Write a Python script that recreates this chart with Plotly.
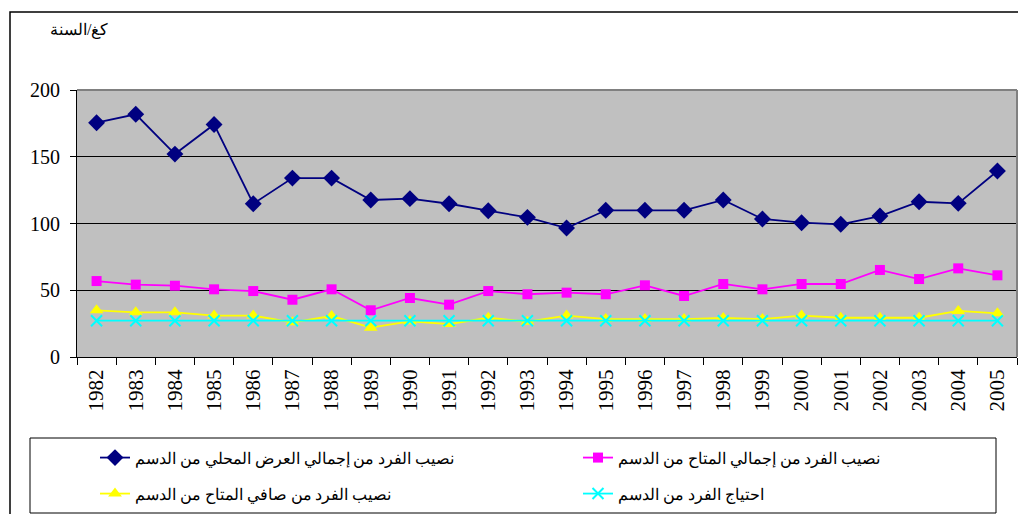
import plotly.graph_objects as go

years = [str(y) for y in range(1982, 2006)]
supply_total = [175.5, 181.8, 152.0, 174.2, 114.8, 134.0, 134.0, 117.6, 118.6, 114.8, 109.6, 104.6,
                96.6, 109.9, 109.9, 109.9, 117.6, 103.4, 100.6, 99.4, 105.6, 116.3, 115.1, 139.3]
available_total = [56.9, 54.2, 53.4, 50.7, 49.4, 42.9, 50.7, 35.0, 44.2, 39.2, 49.4, 47.0,
                   48.2, 47.0, 53.7, 45.7, 54.7, 50.7, 54.7, 54.7, 65.2, 58.4, 66.4, 61.2]
available_net = [35.0, 33.5, 33.5, 31.0, 31.0, 26.0, 30.7, 22.0, 26.7, 24.7, 29.4, 26.4,
                 31.0, 28.4, 28.4, 28.4, 29.2, 28.4, 31.0, 29.4, 29.4, 29.4, 34.5, 32.7]
requirement = [27.2] * 24

names = [
    "نصيب الفرد من إجمالي العرض المحلي من الدسم",
    "نصيب الفرد من إجمالي المتاح من الدسم",
    "نصيب الفرد من صافي المتاح من الدسم",
    "احتياج الفرد من الدسم",
]
y_label = "كغ/السنة"

FONT = "Liberation Serif"

W, H = 1018, 514
L, T = 77, 90
RIGHT, BOTTOM = 1017, 357
R, B = W - RIGHT, H - BOTTOM
pw, ph = RIGHT - L, BOTTOM - T


def px(x):
    return (x - L) / pw


def py(y):
    return (BOTTOM - y) / ph


fig = go.Figure()
fig.add_trace(go.Scatter(x=years, y=supply_total, name=names[0], mode="lines+markers",
                         line=dict(color="#000080", width=1.8),
                         marker=dict(symbol="diamond", size=13, color="#000080"), legend="legend"))
fig.add_trace(go.Scatter(x=years, y=available_total, name=names[1], mode="lines+markers",
                         line=dict(color="#FF00FF", width=1.8),
                         marker=dict(symbol="square", size=10, color="#FF00FF"), legend="legend2"))
fig.add_trace(go.Scatter(x=years, y=available_net, name=names[2], mode="lines+markers",
                         line=dict(color="#FFFF00", width=1.8),
                         marker=dict(symbol="triangle-up", size=12, color="#FFFF00"), legend="legend3"))
fig.add_trace(go.Scatter(x=years, y=requirement, name=names[3], mode="lines+markers",
                         line=dict(color="#00FFFF", width=1.8),
                         marker=dict(symbol="x-thin", size=11, line=dict(color="#00FFFF", width=2)),
                         legend="legend4"))

shapes = [
    dict(type="rect", xref="paper", yref="paper", x0=px(10), x1=px(1040), y0=py(540), y1=py(12),
         line=dict(color="black", width=1.5), layer="below"),
    dict(type="line", xref="paper", yref="paper", x0=0, x1=1, y0=1, y1=1,
         line=dict(color="#808080", width=2)),
    dict(type="line", xref="paper", yref="paper", x0=1, x1=1, y0=0, y1=1,
         line=dict(color="#808080", width=2)),
    dict(type="rect", xref="paper", yref="paper", x0=px(30), x1=px(996), y0=py(513), y1=py(438),
         line=dict(color="black", width=1)),
]


def leg(xr, yr):
    return dict(orientation="h", x=px(xr), y=py(yr), xanchor="left", yanchor="middle",
                bgcolor="rgba(0,0,0,0)", borderwidth=0, font=dict(size=15.5, family=FONT))


fig.update_layout(
    width=W, height=H,
    margin=dict(l=L, r=R, t=T, b=B, autoexpand=False),
    paper_bgcolor="white",
    plot_bgcolor="#C0C0C0",
    font=dict(family=FONT, size=19, color="black"),
    showlegend=True,
    legend=leg(95, 458),
    legend2=leg(578, 458),
    legend3=leg(95, 494),
    legend4=leg(578, 494),
    shapes=shapes,
    annotations=[dict(text=y_label, xref="paper", yref="paper", x=px(79), y=py(30),
                      xanchor="center", yanchor="middle", showarrow=False,
                      font=dict(size=16, family=FONT))],
)
fig.update_xaxes(type="category", tickson="boundaries", ticks="outside", ticklen=7,
                 tickcolor="black", showline=True, linecolor="black", linewidth=1,
                 showgrid=False, tickangle=-90, tickfont=dict(size=21, family=FONT),
                 ticklabelstandoff=3, range=[-0.5, 23.5])
fig.update_yaxes(range=[0, 200], dtick=50, ticks="outside", ticklen=6, tickcolor="black",
                 showline=True, linecolor="black", linewidth=1, showgrid=True,
                 gridcolor="black", gridwidth=1, zeroline=False,
                 tickfont=dict(size=20, family=FONT), ticklabelstandoff=6)

fig.write_html("out.html", config={"displayModeBar": False},
               post_script="document.body.style.margin='0px';document.body.style.overflow='hidden';")
